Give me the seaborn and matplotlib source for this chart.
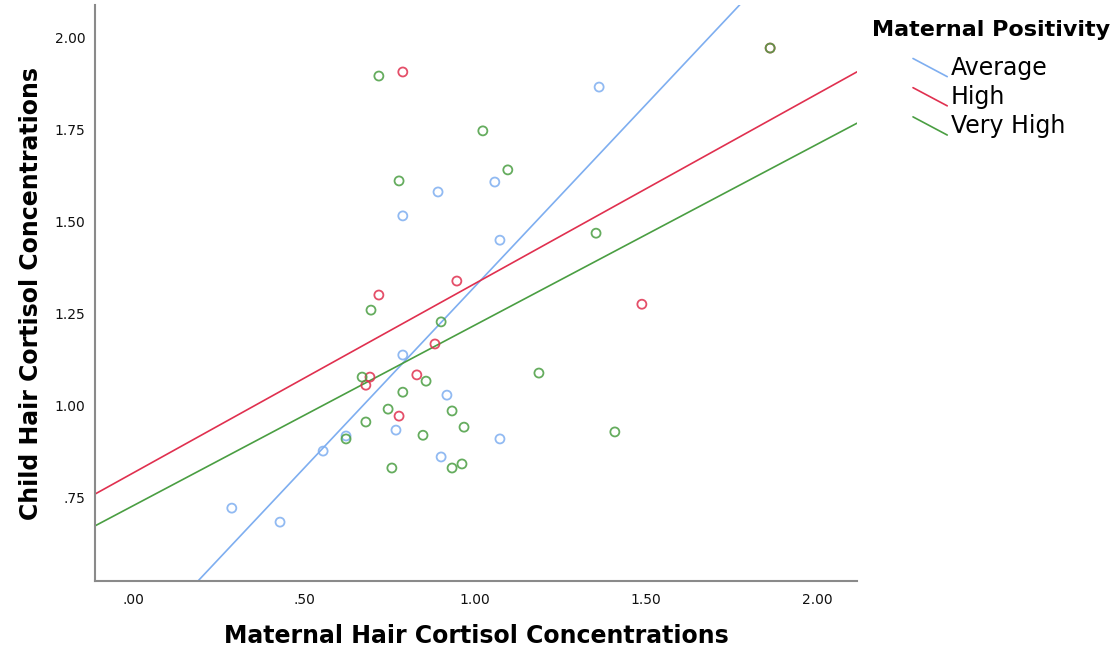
import matplotlib
matplotlib.use("Agg")
import matplotlib.pyplot as plt
import seaborn as sns
import pandas as pd
import numpy as np
from matplotlib.lines import Line2D
from matplotlib.legend_handler import HandlerLine2D
from matplotlib.ticker import FuncFormatter, FixedLocator

# ---- data ----
groups = ["Average", "High", "Very High"]
colors = ["#7eaef0", "#e0304f", "#4a9e42"]

avg_x = [0.289, 0.430, 0.556, 0.623, 0.769, 0.789, 0.901, 0.918, 1.073, 1.073, 0.789, 0.892, 1.058, 1.363]
avg_y = [0.720, 0.682, 0.875, 0.916, 0.932, 1.136, 0.859, 1.027, 0.908, 1.448, 1.514, 1.579, 1.606, 1.864]

high_x = [0.789, 0.719, 0.947, 0.883, 0.693, 0.681, 0.830, 0.778, 1.488, 1.863]
high_y = [1.905, 1.299, 1.337, 1.166, 1.076, 1.054, 1.082, 0.970, 1.274, 1.970]

vhigh_x = [0.719, 0.778, 1.023, 1.096, 1.354, 0.696, 0.901, 0.670, 0.789, 0.857, 0.746,
           0.681, 0.623, 0.848, 0.933, 0.968, 0.757, 0.933, 0.962, 1.187, 1.409, 1.863]
vhigh_y = [1.894, 1.609, 1.745, 1.639, 1.467, 1.258, 1.226, 1.076, 1.035, 1.065, 0.989,
           0.954, 0.908, 0.918, 0.984, 0.940, 0.829, 0.829, 0.840, 1.087, 0.927, 1.970]

x_ticks = [0.0, 0.5, 1.0, 1.5, 2.0]
y_ticks = [0.75, 1.00, 1.25, 1.50, 1.75, 2.00]

df = pd.DataFrame({
    "x": avg_x + high_x + vhigh_x,
    "y": avg_y + high_y + vhigh_y,
    "group": ["Average"] * len(avg_x) + ["High"] * len(high_x) + ["Very High"] * len(vhigh_x),
})

sns.set_style("white")
plt.rcParams["font.family"] = ["DejaVu Sans"]
plt.rcParams["text.color"] = "black"
plt.rcParams["axes.labelcolor"] = "black"

fig = plt.figure(figsize=(11.2, 6.51), dpi=100)
ax = fig.add_axes([95 / 1120, 70 / 651, (857 - 95) / 1120, (646 - 70) / 651])

xlim = (-0.111, 2.117)
ylim = (0.522, 2.087)
ax.set_xlim(*xlim)
ax.set_ylim(*ylim)

palette = dict(zip(groups, colors))
for g in groups:
    sub = df[df["group"] == g]
    ax.scatter(sub["x"], sub["y"], s=42, facecolors="none", edgecolors=palette[g],
               linewidths=1.3, alpha=0.85, zorder=3)

for g in groups:
    sub = df[df["group"] == g]
    ax.set_xlim(*xlim)
    sns.regplot(data=sub, x="x", y="y", ax=ax, scatter=False, ci=None, truncate=False,
                color=palette[g], line_kws={"lw": 1.2, "zorder": 2})

ax.set_xlim(*xlim)
ax.set_ylim(*ylim)

def fmt(v, pos):
    s = f"{v:.2f}"
    if s.startswith("0"):
        s = s[1:]
    return s

ax.xaxis.set_major_locator(FixedLocator(x_ticks))
ax.yaxis.set_major_locator(FixedLocator(y_ticks))
ax.xaxis.set_major_formatter(FuncFormatter(fmt))
ax.yaxis.set_major_formatter(FuncFormatter(fmt))
ax.tick_params(axis="both", length=0, labelsize=10, colors="#111111")
ax.tick_params(axis="x", pad=9)
ax.tick_params(axis="y", pad=7)

for side in ["top", "right"]:
    ax.spines[side].set_visible(False)
for side in ["left", "bottom"]:
    ax.spines[side].set_color("#8a8a8a")
    ax.spines[side].set_linewidth(1.5)

ax.set_xlabel("Maternal Hair Cortisol Concentrations", fontsize=17, fontweight="bold", labelpad=12)
ax.set_ylabel("Child Hair Cortisol Concentrations", fontsize=17, fontweight="bold", labelpad=8)


class DiagHandler(HandlerLine2D):
    def create_artists(self, legend, orig_handle, xdescent, ydescent, width, height, fontsize, trans):
        line = Line2D([0, width], [height * 1.0, -height * 0.1],
                      color=orig_handle.get_color(), lw=orig_handle.get_linewidth())
        line.set_transform(trans)
        return [line]


fig.text(872 / 1120, 1 - 30 / 651, "Maternal Positivity", fontsize=16, fontweight="bold",
         ha="left", va="center")

handles = [Line2D([0], [0], color=c, lw=1.2) for c in colors]
leg = fig.legend(handles, groups, loc="upper left",
                 bbox_to_anchor=(913 / 1120, 1 - 56 / 651), frameon=False,
                 fontsize=17, handler_map={Line2D: DiagHandler()},
                 handlelength=1.45, handletextpad=0.15,
                 labelspacing=0.22, borderaxespad=0, borderpad=0)

fig.savefig("out.png", dpi=100)
